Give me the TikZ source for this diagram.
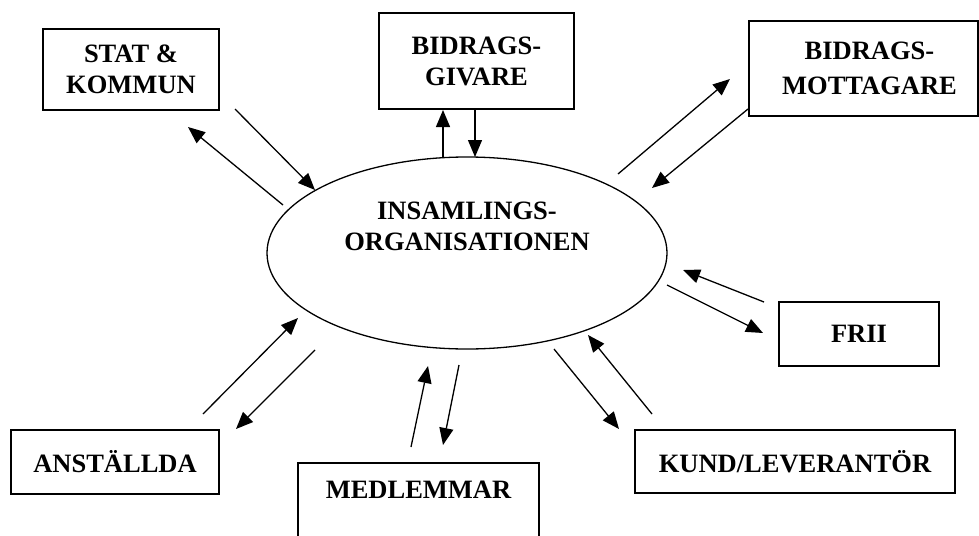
\documentclass[tikz,border=0pt]{standalone}
\usepackage{fontspec}
\setmainfont{Liberation Serif}
\usetikzlibrary{arrows.meta,shapes.geometric}
\begin{document}
\begin{tikzpicture}[x=1pt,y=-1pt,
  lbl/.style={align=center, inner sep=0pt, font=\fontsize{26.5}{31}\selectfont\bfseries},
  box/.style={lbl, draw, line width=1.6pt, rectangle},
  link/.style={line width=1.3pt, -{Triangle[length=17pt,width=14pt]}}
]
\useasboundingbox (0,0) rectangle (979,535);
\clip (0,0) rectangle (979,535);

% central ellipse
\node[draw, ellipse, line width=1.3pt, minimum width=400pt, minimum height=192pt, inner sep=0pt] (org) at (467,253) {};
\node[lbl] (orgtext) at (467,226) {INSAMLINGS-\\ORGANISATIONEN};

% boxes
\node[box, minimum width=176pt, minimum height=81pt] (stat) at (131,69.5) {STAT \&\\KOMMUN};
\node[box, minimum width=195pt, minimum height=96pt] (givare) at (476.5,61) {BIDRAGS-\\GIVARE};
\node[box, minimum width=229pt, minimum height=95pt, font=\fontsize{26.5}{35}\selectfont\bfseries] (mott) at (863.5,68.5) {\hspace*{12pt}BIDRAGS-\\\hspace*{12pt}MOTTAGARE};
\node[box, minimum width=160pt, minimum height=64pt] (frii) at (859,334) {FRII};
\node[box, minimum width=320pt, minimum height=63pt] (kund) at (795,461.5) {KUND/LEVERANTÖR};
\node[box, minimum width=208pt, minimum height=64pt] (anst) at (115,462) {ANSTÄLLDA};
\node[box, anchor=north, minimum width=241pt, text height=36pt, text depth=62pt] (medl) at (418.5,462) {MEDLEMMAR};

% connector end points
\coordinate (s1a) at (283,205); \coordinate (s1b) at (188,127);
\coordinate (s2a) at (235,109); \coordinate (s2b) at (315,190);
\coordinate (g1a) at (443,158); \coordinate (g1b) at (443,110);
\coordinate (g2a) at (475,110); \coordinate (g2b) at (475,157);
\coordinate (m1a) at (618,174); \coordinate (m1b) at (730,79);
\coordinate (m2a) at (748,109); \coordinate (m2b) at (652,188);
\coordinate (f1a) at (764,302); \coordinate (f1b) at (683,270);
\coordinate (f2a) at (667,285); \coordinate (f2b) at (763,333);
\coordinate (k1a) at (652,414); \coordinate (k1b) at (588,335);
\coordinate (k2a) at (554,349); \coordinate (k2b) at (619,429);
\coordinate (e1a) at (411,447); \coordinate (e1b) at (428,366);
\coordinate (e2a) at (459,365); \coordinate (e2b) at (443,445);
\coordinate (a1a) at (203,414); \coordinate (a1b) at (298,318);
\coordinate (a2a) at (315,350); \coordinate (a2b) at (236,429);

% connectors
\draw[link] (s1a) -- (s1b);
\draw[link] (s2a) -- (s2b);
\draw[link] (g1a) -- (g1b);
\draw[link] (g2a) -- (g2b);
\draw[link] (m1a) -- (m1b);
\draw[link] (m2a) -- (m2b);
\draw[link] (f1a) -- (f1b);
\draw[link] (f2a) -- (f2b);
\draw[link] (k1a) -- (k1b);
\draw[link] (k2a) -- (k2b);
\draw[link] (e1a) -- (e1b);
\draw[link] (e2a) -- (e2b);
\draw[link] (a1a) -- (a1b);
\draw[link] (a2a) -- (a2b);
\end{tikzpicture}
\end{document}
